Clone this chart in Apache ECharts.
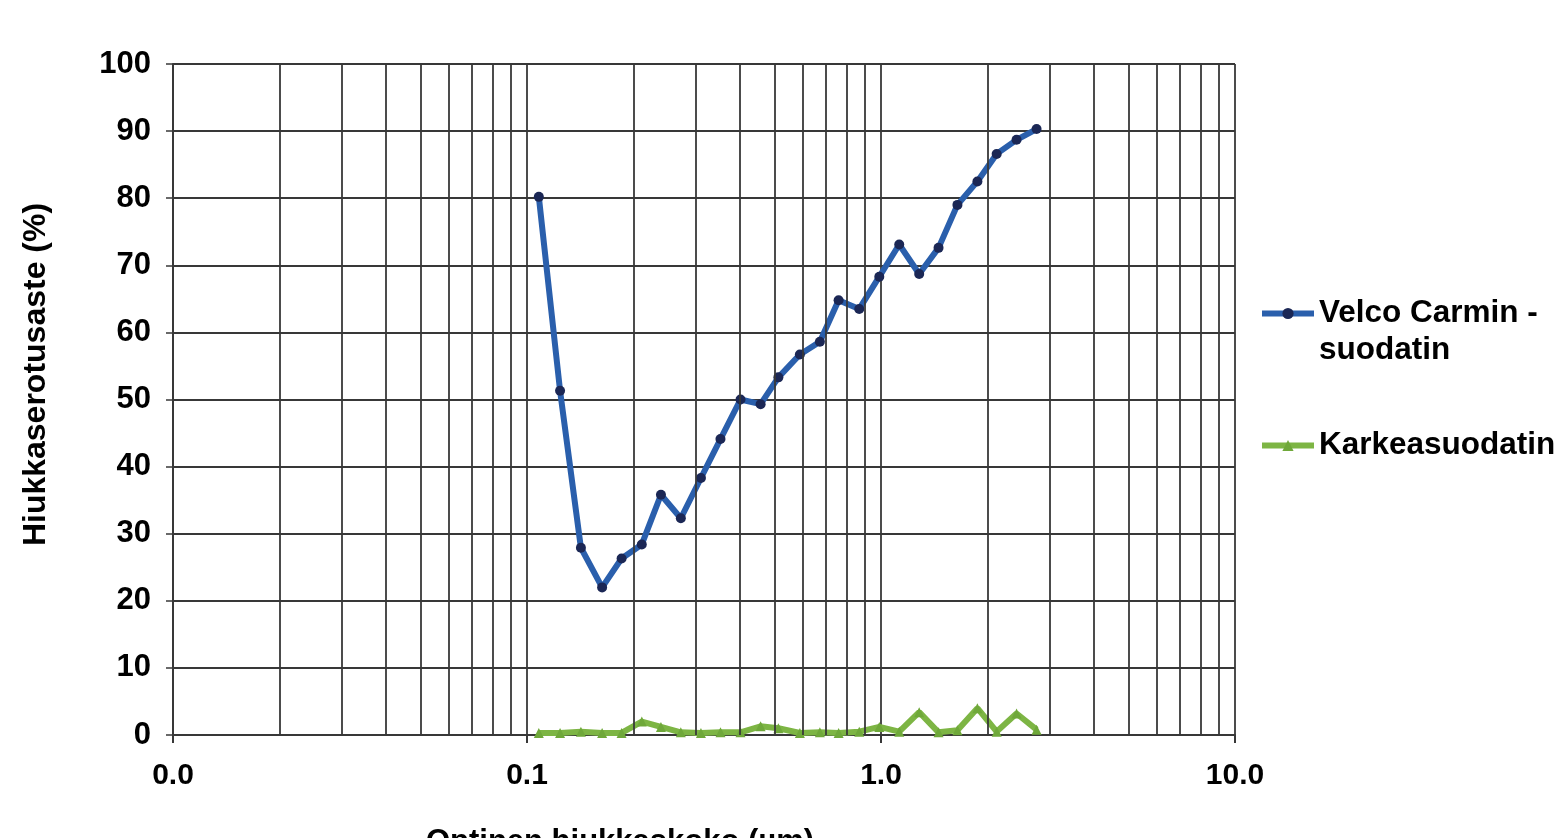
<!DOCTYPE html>
<html>
<head>
<meta charset="utf-8">
<script src="https://cdn.jsdelivr.net/npm/echarts@6/dist/echarts.min.js"></script>
<style>
html,body{margin:0;padding:0;background:#fff;overflow:hidden;}
#chart{width:1567px;height:838px;}
</style>
</head>
<body>
<div id="chart"></div>
<script>
// Particle size (µm), log scale
const particleSize = [0.108, 0.124, 0.142, 0.163, 0.185, 0.211, 0.239, 0.272, 0.310, 0.352, 0.401, 0.457, 0.513, 0.590, 0.672, 0.759, 0.868, 0.989, 1.126, 1.282, 1.454, 1.644, 1.872, 2.122, 2.415, 2.751];
const velcoValues = [80.2, 51.3, 27.9, 22.0, 26.3, 28.4, 35.8, 32.3, 38.3, 44.1, 50.0, 49.3, 53.3, 56.7, 58.6, 64.8, 63.5, 68.3, 73.1, 68.7, 72.6, 79.0, 82.5, 86.6, 88.7, 90.3];
const karkeaValues = [0.3, 0.3, 0.5, 0.3, 0.3, 2.0, 1.2, 0.4, 0.3, 0.4, 0.4, 1.3, 1.0, 0.3, 0.4, 0.3, 0.5, 1.2, 0.5, 3.4, 0.4, 0.7, 4.0, 0.5, 3.2, 0.8];
const minorGridX = [0.02, 0.03, 0.04, 0.05, 0.06, 0.07, 0.08, 0.09, 0.2, 0.3, 0.4, 0.5, 0.6, 0.7, 0.8, 0.9, 2, 3, 4, 5, 6, 7, 8, 9];
const seriesNames = ['Velco Carmin -suodatin', 'Karkeasuodatin'];
const xAxisTitle = 'Optinen hiukkaskoko (µm)';
const yAxisTitle = 'Hiukkaserotusaste (%)';

const FONT = '"Liberation Sans", Arial, sans-serif';
const gridColor = '#383838';

const chart = echarts.init(document.getElementById('chart'), null, {renderer: 'canvas'});
const pair = (xs, ys) => xs.map((x, i) => [x, ys[i]]);

chart.setOption({
  animation: false,
  backgroundColor: '#ffffff',
  grid: {left: 173, width: 1062, top: 64, height: 671, containLabel: false, outerBoundsMode: 'none'},
  legend: {
    orient: 'vertical',
    left: 1254,
    top: 253,
    itemWidth: 52,
    itemHeight: 14,
    itemGap: 58,
    selectedMode: false,
    textStyle: {fontFamily: FONT, fontSize: 31.5, fontWeight: 'bold', color: '#000', lineHeight: 37},
    formatter: name => name.indexOf(' -') >= 0 ? '\n' + name.replace(' -', ' -\n') : name,
    data: [
      {name: seriesNames[0], lineStyle: {width: 6}},
      {name: seriesNames[1], lineStyle: {width: 6}}
    ]
  },
  xAxis: {
    type: 'log',
    logBase: 10,
    min: 0.01,
    max: 10,
    name: xAxisTitle,
    nameLocation: 'middle',
    nameGap: 92,
    nameTextStyle: {fontFamily: FONT, fontSize: 31, fontWeight: 'bold', color: '#000', padding: [0, 168, 0, 0]},
    axisLine: {show: true, lineStyle: {color: gridColor, width: 2}},
    axisTick: {show: true, length: 8, lineStyle: {color: gridColor, width: 2}},
    axisLabel: {
      fontFamily: FONT, fontSize: 30, fontWeight: 'bold', color: '#000', margin: 26,
      formatter: v => Number(v).toFixed(1)
    },
    splitLine: {show: true, lineStyle: {color: gridColor, width: 1.8}},
    minorTick: {show: false},
    minorSplitLine: {show: false}
  },
  yAxis: {
    type: 'value',
    min: 0,
    max: 100,
    interval: 10,
    name: yAxisTitle,
    nameLocation: 'middle',
    nameGap: 121,
    nameRotate: 90,
    nameTextStyle: {fontFamily: FONT, fontSize: 32, fontWeight: 'bold', color: '#000', padding: [0, 0, 0, 50]},
    axisLine: {show: true, lineStyle: {color: gridColor, width: 2}},
    axisTick: {show: true, length: 7, lineStyle: {color: gridColor, width: 1.5}},
    axisLabel: {fontFamily: FONT, fontSize: 31, fontWeight: 'bold', color: '#000', margin: 22},
    splitLine: {show: true, lineStyle: {color: gridColor, width: 1.8}}
  },
  series: [
    {
      name: 'minor-grid',
      type: 'line',
      data: [],
      silent: true,
      z: 1,
      markLine: {
        silent: true,
        symbol: 'none',
        animation: false,
        label: {show: false},
        lineStyle: {type: 'solid', color: gridColor, width: 1.8},
        emphasis: {disabled: true},
        data: minorGridX.map(v => ({xAxis: v}))
      }
    },
    {
      name: seriesNames[0],
      type: 'line',
      z: 3,
      data: pair(particleSize, velcoValues),
      symbol: 'circle',
      symbolSize: 10,
      showAllSymbol: true,
      lineStyle: {color: '#2A5FAC', width: 6},
      itemStyle: {color: '#1B2755', borderColor: '#1B2755', borderWidth: 0},
      emphasis: {disabled: true}
    },
    {
      name: seriesNames[1],
      type: 'line',
      z: 3,
      data: pair(particleSize, karkeaValues),
      symbol: 'triangle',
      symbolSize: 10,
      showAllSymbol: true,
      lineStyle: {color: '#7DB544', width: 6},
      itemStyle: {color: '#6FA83A'},
      emphasis: {disabled: true}
    }
  ]
});
</script>
</body>
</html>
